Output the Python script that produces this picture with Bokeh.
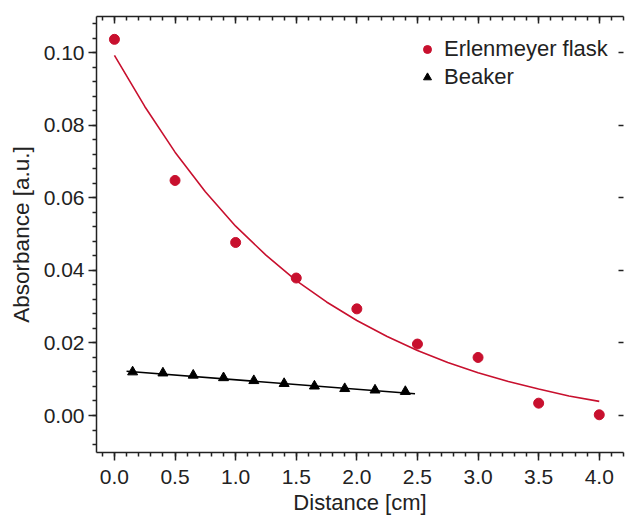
from bokeh.plotting import figure
from bokeh.models import (LinearAxis, SingleIntervalTicker, PrintfTickFormatter,
                          Legend, LegendItem, Range1d, CustomLabelingPolicy,
                          CustomJSTickFormatter)
from bokeh.embed import file_html
from bokeh.resources import INLINE

# ---- data ----
flask_x = [0.0, 0.5, 1.0, 1.5, 2.0, 2.5, 3.0, 3.5, 4.0]
flask_y = [0.1037, 0.0648, 0.0477, 0.0379, 0.0294, 0.0197, 0.0160, 0.0034, 0.0002]

flask_fit_x = [0.0, 0.25, 0.5, 0.75, 1.0, 1.25, 1.5, 1.75, 2.0, 2.25, 2.5,
               2.75, 3.0, 3.25, 3.5, 3.75, 4.0]
flask_fit_y = [0.0993, 0.0852, 0.0726, 0.0617, 0.0522, 0.0442, 0.0372, 0.0313,
               0.0262, 0.0218, 0.0179, 0.0146, 0.0118, 0.0094, 0.0073, 0.0054, 0.0039]

beaker_x = [0.15, 0.40, 0.65, 0.90, 1.15, 1.40, 1.65, 1.90, 2.15, 2.40]
beaker_y = [0.0120, 0.0117, 0.0111, 0.0104, 0.0096, 0.0088, 0.0081, 0.0074, 0.0070, 0.0066]

beaker_fit_x = [0.10, 2.48]
beaker_fit_y = [0.0122, 0.0060]

series_names = ["Erlenmeyer flask", "Beaker"]
x_label = "Distance [cm]"
y_label = "Absorbance [a.u.]"

RED = "#C8102E"
INK = "#222222"
FONT = "Liberation Sans"

p = figure(width=627, height=519, output_backend="svg", toolbar_location=None,
           x_range=Range1d(-0.148, 4.2), y_range=Range1d(-0.0102, 0.110),
           min_border_left=96, min_border_right=0, min_border_top=16,
           min_border_bottom=67, x_axis_location=None, y_axis_location=None)
p.outline_line_color = None
p.grid.visible = False
p.background_fill_color = "white"
p.border_fill_color = "white"

xt = SingleIntervalTicker(interval=0.5, num_minor_ticks=5)
yt = SingleIntervalTicker(interval=0.02, num_minor_ticks=5)

no_labels = CustomLabelingPolicy(code="""
try {
  for (const i of Array.from(indices)) {
    if (indices.unset) { indices.unset(i) } else { indices.set(i, false) }
  }
} catch (e) {}
return indices
""")
blank = CustomJSTickFormatter(code="return ''")


def style(ax):
    ax.axis_line_color = INK
    ax.axis_line_width = 1.5
    ax.major_tick_line_color = INK
    ax.minor_tick_line_color = INK
    ax.major_tick_line_width = 1.5
    ax.minor_tick_line_width = 1.5
    ax.major_label_text_font = FONT
    ax.major_label_text_font_size = "21px"
    ax.major_label_text_color = INK
    ax.axis_label_text_font = FONT
    ax.axis_label_text_font_size = "22px"
    ax.axis_label_text_font_style = "normal"
    ax.axis_label_text_color = INK


bottom = LinearAxis(ticker=xt, formatter=PrintfTickFormatter(format="%.1f"),
                    axis_label=x_label)
style(bottom)
bottom.major_tick_out = 8
bottom.major_tick_in = 0
bottom.minor_tick_out = 4
bottom.minor_tick_in = 0
bottom.major_label_standoff = 9
bottom.axis_label_standoff = 3
p.add_layout(bottom, "below")

left = LinearAxis(ticker=yt, formatter=PrintfTickFormatter(format="%.2f"),
                  axis_label=y_label)
style(left)
left.axis_label_text_font_size = "22.5px"
left.major_tick_out = 8
left.major_tick_in = 0
left.minor_tick_out = 4
left.minor_tick_in = 0
left.major_label_standoff = 4
left.axis_label_standoff = 7
p.add_layout(left, "left")

top = LinearAxis(ticker=xt, formatter=blank, major_label_policy=no_labels)
style(top)
top.major_tick_out = 0
top.major_tick_in = 7
top.minor_tick_out = 0
top.minor_tick_in = 4
top.major_label_text_font_size = "0px"
top.major_label_standoff = 0
p.add_layout(top, "above")

right = LinearAxis(ticker=yt, formatter=blank, major_label_policy=no_labels)
style(right)
right.axis_line_color = None
right.major_tick_out = 0
right.major_tick_in = 5
right.minor_tick_line_color = None
right.major_label_text_font_size = "0px"
right.major_label_standoff = 0
p.add_layout(right, "right")

# fits
p.line(flask_fit_x, flask_fit_y, line_color=RED, line_width=1.6, line_join="round")
p.line(beaker_fit_x, beaker_fit_y, line_color="black", line_width=1.6)

# points
r_flask = p.scatter(flask_x, flask_y, marker="circle", size=10,
                    fill_color=RED, line_color=RED)
r_beaker = p.scatter(beaker_x, beaker_y, marker="triangle", size=10,
                     fill_color="black", line_color="black")

legend = Legend(items=[LegendItem(label=series_names[0], renderers=[r_flask]),
                       LegendItem(label=series_names[1], renderers=[r_beaker])],
                location=(321, 361), glyph_width=20, glyph_height=28,
                label_height=28, label_standoff=7, padding=0, margin=0, spacing=0,
                background_fill_alpha=0, border_line_alpha=0,
                label_text_font=FONT, label_text_font_size="22px",
                label_text_color=INK)
p.add_layout(legend, "center")

open("out.html", "w").write(file_html(p, INLINE))
